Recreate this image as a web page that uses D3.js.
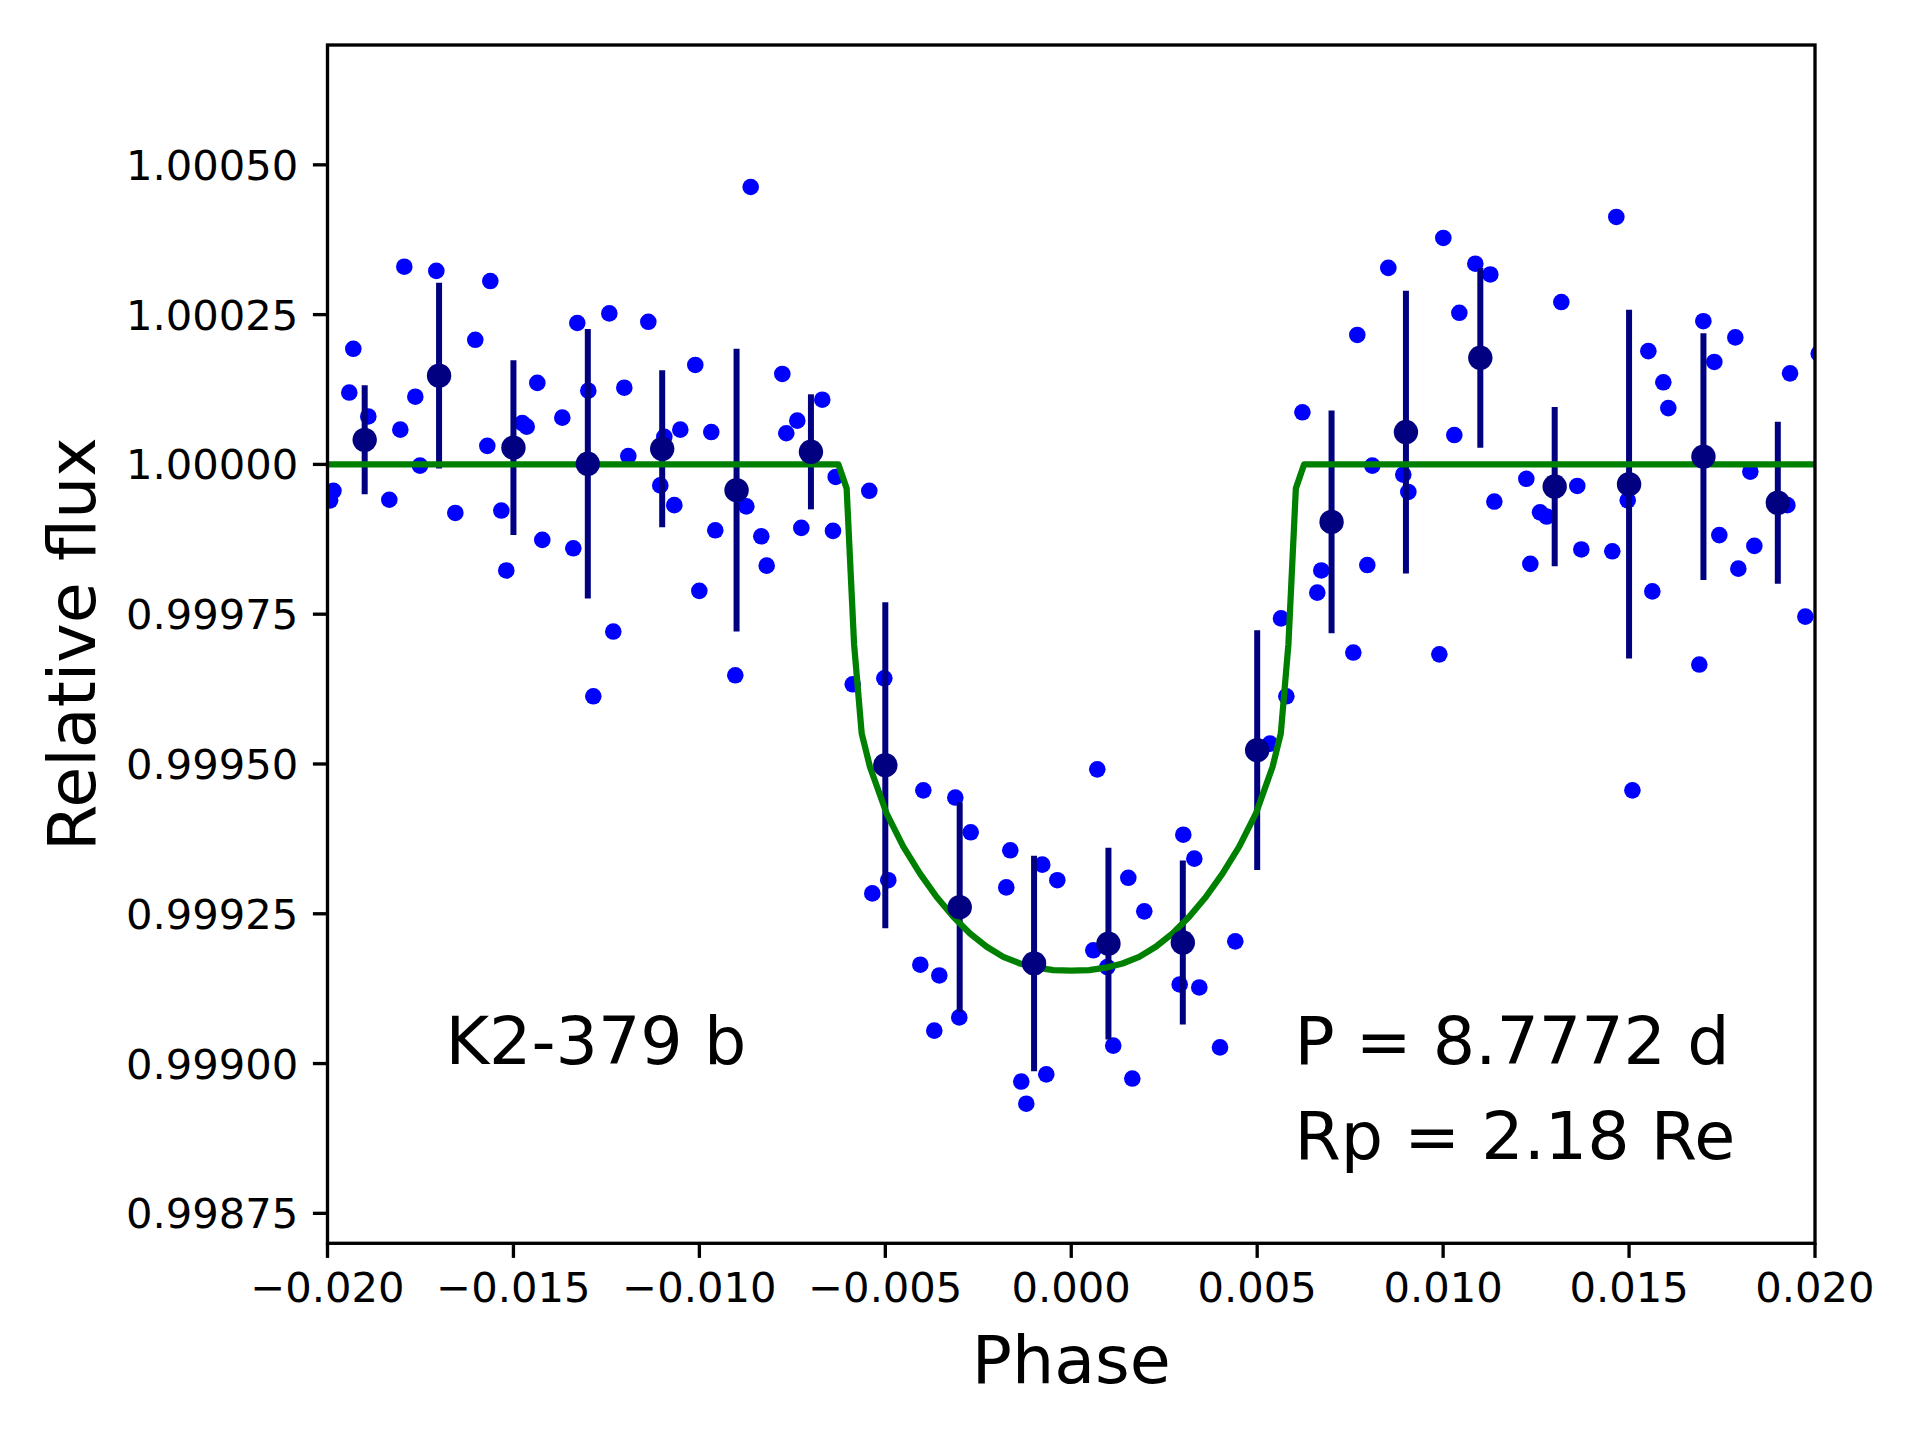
<!DOCTYPE html>
<html>
<head>
<meta charset="utf-8">
<script src="https://cdn.jsdelivr.net/npm/d3@7"></script>
<style>
  html, body { margin: 0; padding: 0; background: #fff; }
  svg { display: block; }
  text { font-family: "DejaVu Sans", sans-serif; fill: #000; }
</style>
</head>
<body>
<svg id="chart" width="1920" height="1440"></svg>
<script>
// ---------- data ----------
const dotPhase = [
  -0.01993, -0.01984, -0.019414, -0.019306, -0.018903, -0.018338, -0.018042, -0.017935, -0.017639, -0.017513,
  -0.017074, -0.016563, -0.016026, -0.015703, -0.015622, -0.015326, -0.015192, -0.014762, -0.014643, -0.014358,
  -0.014224, -0.013686, -0.01339, -0.013283, -0.012987, -0.012852, -0.012422, -0.012315, -0.012019, -0.011911,
  -0.011373, -0.011051, -0.010943, -0.010674, -0.010513, -0.01011, -0.010002, -0.00968, -0.009572, -0.009034,
  -0.008738, -0.00862, -0.008335, -0.00819, -0.00777, -0.007663, -0.007367, -0.007259, -0.006695, -0.006407,
  -0.006334, -0.005877, -0.005431, -0.00535, -0.005027, -0.00492, -0.004059, -0.003978, -0.003683, -0.003548,
  -0.003118, -0.003011, -0.002704, -0.001747, -0.001639, -0.001344, -0.001209, -0.000779, -0.000671, -0.000375,
  0.000593, 0.0007, 0.000969, 0.001129, 0.001534, 0.001642, 0.001964, 0.002916, 0.003013, 0.003309,
  0.003443, 0.004, 0.004411, 0.005344, 0.005641, 0.005784, 0.006216, 0.006616, 0.006724, 0.007585,
  0.007692, 0.007961, 0.008096, 0.008526, 0.008929, 0.009064, 0.009898, 0.010005, 0.010301, 0.010436,
  0.010866, 0.011269, 0.011377, 0.012237, 0.012345, 0.012606, 0.012785, 0.013178, 0.013608, 0.013716,
  0.014549, 0.014657, 0.014964, 0.01509, 0.015518, 0.015625, 0.015921, 0.016056, 0.016889, 0.016997,
  0.017293, 0.017427, 0.017857, 0.017938, 0.018261, 0.018369, 0.019256, 0.019329, 0.01974, 0.0201
];
const dotFlux = [
  0.99994, 0.999956, 1.00012, 1.000193, 1.00008, 0.999941, 1.000058, 1.00033, 1.000113, 0.999998,
  1.000323, 0.999919, 1.000208, 1.000031, 1.000306, 0.999923, 0.999823, 1.000069, 1.000063, 1.000136,
  0.999874, 1.000078, 0.99986, 1.000236, 1.000123, 0.999613, 1.000252, 0.999721, 1.000128, 1.000014,
  1.000238, 0.999965, 1.000046, 0.999932, 1.000058, 1.000166, 0.999789, 1.000054, 0.99989, 0.999648,
  0.99993, 1.000463, 0.99988, 0.999831, 1.000151, 1.000052, 1.000073, 0.999894, 1.000108, 0.999889,
  0.999979, 0.999633, 0.999956, 0.999284, 0.999643, 0.999306, 0.999165, 0.999456, 0.999055, 0.999147,
  0.999444, 0.999077, 0.999386, 0.999294, 0.999356, 0.99897, 0.998933, 0.999332, 0.998982, 0.999306,
  0.999189, 0.999491, 0.999161, 0.99903, 0.99931, 0.998975, 0.999254, 0.999132, 0.999382, 0.999342,
  0.999127, 0.999027, 0.999204, 0.999534, 0.999743, 0.999613, 1.000087, 0.999786, 0.999823, 0.999686,
  1.000216, 0.999832, 0.999998, 1.000328, 0.999983, 0.999954, 0.999683, 1.000378, 1.000049, 1.000253,
  1.000335, 1.000317, 0.999938, 0.999976, 0.999834, 0.99992, 0.999913, 1.000271, 0.999964, 0.999858,
  0.999855, 1.000413, 0.99994, 0.999456, 1.000189, 0.999788, 1.000137, 1.000094, 0.999666, 1.000239,
  1.000171, 0.999882, 1.000212, 0.999826, 0.999988, 0.999864, 0.999932, 1.000152, 0.999746, 1.000185
];

const binPhase = [-0.019, -0.017, -0.015, -0.013, -0.011, -0.009, -0.007, -0.005, -0.003, -0.001,
                   0.001, 0.003, 0.005, 0.007, 0.009, 0.011, 0.013, 0.015, 0.017, 0.019];
const binFlux = [1.000041, 1.000148, 1.000028, 1.000001, 1.000026, 0.999957, 1.000021, 0.999498, 0.999261, 0.999167,
                 0.999200, 0.999202, 0.999523, 0.999904, 1.000054, 1.000178, 0.999963, 0.999967, 1.000013, 0.999936];
const binErr = [0.000091, 0.000155, 0.000146, 0.000225, 0.000131, 0.000236, 0.000096, 0.000272, 0.000175, 0.000180,
                0.000160, 0.000137, 0.000200, 0.000186, 0.000236, 0.000150, 0.000133, 0.000291, 0.000206, 0.000135];

const modelPhase = [-0.02, -0.00626, -0.00604, -0.00584, -0.005635, -0.005412, -0.004963, -0.004516, -0.004067,
  -0.003619, -0.003172, -0.002723, -0.002274, -0.001827, -0.001378, -0.000929, -0.000483, 0,
  0.000483, 0.000929, 0.001378, 0.001827, 0.002274, 0.002723, 0.003172, 0.003619,
  0.004067, 0.004516, 0.004963, 0.005412, 0.005635, 0.00584, 0.00604, 0.00626, 0.02];
const modelFlux = [1.0, 1.0, 0.99996, 0.99970, 0.999551, 0.999495, 0.999417, 0.999362, 0.999317,
  0.999278, 0.999245, 0.999217, 0.999195, 0.999178, 0.999167, 0.99916, 0.999156, 0.999155,
  0.999156, 0.99916, 0.999167, 0.999178, 0.999195, 0.999217, 0.999245, 0.999278,
  0.999317, 0.999362, 0.999417, 0.999495, 0.999551, 0.99970, 0.99996, 1.0, 1.0];

const xTicks = [-0.02, -0.015, -0.01, -0.005, 0, 0.005, 0.01, 0.015, 0.02];
const yTicks = [0.99875, 0.999, 0.99925, 0.9995, 0.99975, 1.0, 1.00025, 1.0005];

const planetLabel = "K2-379 b";
const periodLabel = "P = 8.7772 d";
const radiusLabel = "Rp = 2.18 Re";
const xTitle = "Phase";
const yTitle = "Relative flux";

// ---------- layout ----------
const L = 327.5, R = 1815, T = 45, B = 1243.3;
const x = d3.scaleLinear().domain([-0.02, 0.02]).range([L, R]);
const y = d3.scaleLinear().domain([0.9987, 1.0007]).range([B, T]);

const svg = d3.select("#chart");
svg.append("rect").attr("width", 1920).attr("height", 1440).attr("fill", "#fff");

svg.append("defs").append("clipPath").attr("id", "clip")
  .append("rect").attr("x", L).attr("y", T).attr("width", R - L).attr("height", B - T);

const plot = svg.append("g").attr("clip-path", "url(#clip)");

// unbinned points
plot.append("g").selectAll("circle")
  .data(dotPhase.map((p, i) => [p, dotFlux[i]]))
  .join("circle")
  .attr("cx", d => x(d[0]))
  .attr("cy", d => y(d[1]))
  .attr("r", 8.3)
  .attr("fill", "#0000ff");

// error bars
const bins = binPhase.map((p, i) => ({ p, f: binFlux[i], e: binErr[i] }));
plot.append("g").selectAll("line")
  .data(bins)
  .join("line")
  .attr("x1", d => x(d.p)).attr("x2", d => x(d.p))
  .attr("y1", d => y(d.f - d.e)).attr("y2", d => y(d.f + d.e))
  .attr("stroke", "#000080")
  .attr("stroke-width", 6);

// model
plot.append("path")
  .datum(modelPhase.map((p, i) => [p, modelFlux[i]]))
  .attr("d", d3.line().x(d => x(d[0])).y(d => y(d[1])))
  .attr("fill", "none")
  .attr("stroke", "#008000")
  .attr("stroke-width", 6.25)
  .attr("stroke-linejoin", "round");

// binned markers
plot.append("g").selectAll("circle")
  .data(bins)
  .join("circle")
  .attr("cx", d => x(d.p))
  .attr("cy", d => y(d.f))
  .attr("r", 12.2)
  .attr("fill", "#000080");

// axes frame
svg.append("rect")
  .attr("x", L).attr("y", T).attr("width", R - L).attr("height", B - T)
  .attr("fill", "none").attr("stroke", "#000").attr("stroke-width", 3.33);

const tickLen = 14.6, tickFont = 41.67;
const fmtX = d => d3.format(".3f")(d).replace("-", "\u2212");
const fmtY = d => d3.format(".5f")(d);

const gx = svg.append("g");
gx.selectAll("line").data(xTicks).join("line")
  .attr("x1", d => x(d)).attr("x2", d => x(d))
  .attr("y1", B).attr("y2", B + tickLen)
  .attr("stroke", "#000").attr("stroke-width", 3.33);
gx.selectAll("text").data(xTicks).join("text")
  .attr("x", d => x(d)).attr("y", 1302)
  .attr("text-anchor", "middle")
  .attr("font-size", tickFont)
  .text(fmtX);

const gy = svg.append("g");
gy.selectAll("line").data(yTicks).join("line")
  .attr("x1", L - tickLen).attr("x2", L)
  .attr("y1", d => y(d)).attr("y2", d => y(d))
  .attr("stroke", "#000").attr("stroke-width", 3.33);
gy.selectAll("text").data(yTicks).join("text")
  .attr("x", L - tickLen - 14.6).attr("y", d => y(d) + 15)
  .attr("text-anchor", "end")
  .attr("font-size", tickFont)
  .text(fmtY);

// axis titles
svg.append("text")
  .attr("x", (L + R) / 2).attr("y", 1383)
  .attr("text-anchor", "middle")
  .attr("font-size", 66.67)
  .text(xTitle);
svg.append("text")
  .attr("transform", `translate(95, ${(T + B) / 2}) rotate(-90)`)
  .attr("text-anchor", "middle")
  .attr("font-size", 66.67)
  .text(yTitle);

// annotations
svg.append("text").attr("x", x(-0.01683)).attr("y", y(0.999))
  .attr("font-size", 66.67).text(planetLabel);
svg.append("text").attr("x", x(0.006)).attr("y", y(0.999))
  .attr("font-size", 66.67).text(periodLabel);
svg.append("text").attr("x", x(0.006)).attr("y", y(0.99884))
  .attr("font-size", 66.67).text(radiusLabel);
</script>
</body>
</html>
